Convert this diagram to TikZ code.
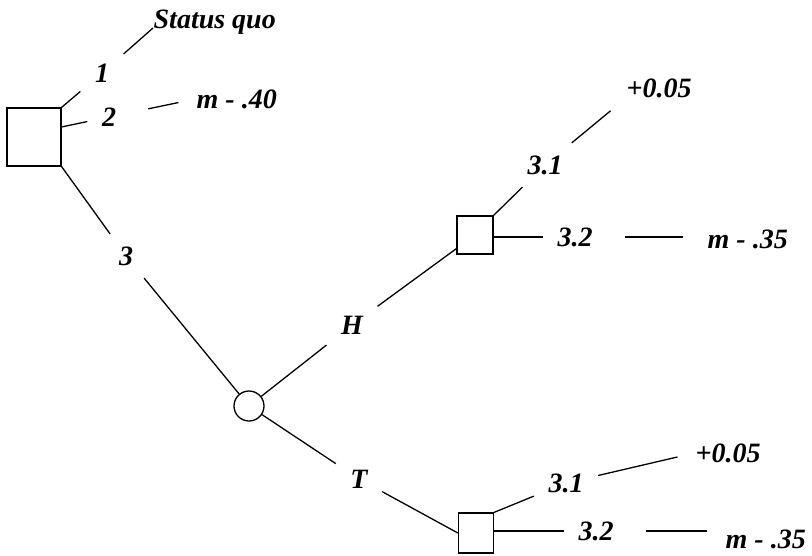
\documentclass[tikz,border=0pt]{standalone}
\usepackage{fontspec}
\setmainfont{Liberation Serif}
\usepackage{tikz}
\usetikzlibrary{calc}

\begin{document}
\begin{tikzpicture}[x=1pt,y=-1pt,line width=1.3pt,
	  every node/.style={font=\fontsize{28}{30}\selectfont\bfseries\itshape},
	  choice/.style={draw,rectangle,inner sep=0pt},
	  chance/.style={draw,circle,inner sep=0pt,minimum size=30pt},
	  lbl/.style={inner xsep=14pt,inner ysep=12pt},
	  pay/.style={inner sep=0pt},
	  gap/.style={shorten <=18pt},
	  tail/.style={shorten >=18pt}]
	  \useasboundingbox (0,0) rectangle (812,555);
	  % decision and chance nodes
	  \node[choice,minimum width=54pt,minimum height=58pt] (d0) at (34,137) {};
	  \node[chance] (c1) at (249,406) {};
	  \node[choice,minimum width=36pt,minimum height=38pt] (d1) at (475,235) {};
	  \node[choice,minimum width=35pt,minimum height=40pt] (d2) at (476,533) {};
	  % branch labels
	  \node[lbl] (b1) at (102,73) {1};
	  \node[lbl] (b2) at (109,117) {2};
	  \node[lbl] (b3) at (126,256) {3};
	  \node[lbl] (bh) at (352,325) {H};
	  \node[lbl] (bt) at (359,479) {T};
	  \node[lbl] (bha) at (545,165) {3.1};
	  \node[lbl] (bhb) at (575,237) {3.2};
	  \node[lbl] (bta) at (566,483) {3.1};
	  \node[lbl] (btb) at (596,531) {3.2};
	  % payoffs
	  \node[pay,anchor=base west] (p1) at (153,28) {Status quo};
	  \node[pay,anchor=base west] (p2) at (196,108) {m - .40};
	  \node[pay,anchor=base west] (pha) at (626,97) {+0.05};
	  \node[pay,anchor=base west] (phb) at (707,248) {m - .35};
	  \node[pay,anchor=base west] (pta) at (695,462) {+0.05};
	  \node[pay,anchor=base west] (ptb) at (725,548) {m - .35};
	  % connectors
	  \draw (d0.north east) -- (b1);
	  \draw (b1) -- (p1.base west);
	  \draw (d0.20) -- (b2);
	  \draw[gap,tail] (b2) -- (p2.west);
	  \draw (d0.south east) -- (b3);
	  \draw (b3) -- (c1);
	  \draw (c1) -- (bh);
	  \draw (bh) -- (d1);
	  \draw (c1) -- (bt);
	  \draw (bt) -- (d2.west);
	  \draw (d1.north east) -- (bha);
	  \draw[shorten >=20pt] (bha) -- (pha.south west);
	  \draw (d1.east |- bhb) -- (bhb);
	  \draw[gap,shorten >=24pt] (bhb) -- (phb.west |- bhb);
	  \draw (d2.north east) -- (bta);
	  \draw[tail] (bta) -- (pta.west);
	  \draw (d2.east |- btb) -- (btb);
	  \draw[gap,tail] (btb) -- (ptb.west |- btb);
	\end{tikzpicture}
\end{document}
